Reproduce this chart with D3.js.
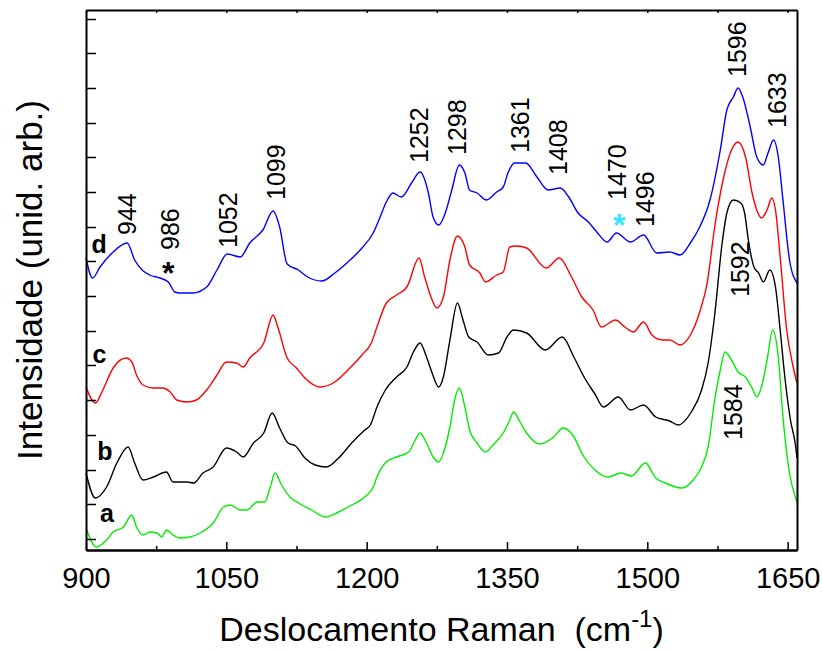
<!DOCTYPE html>
<html>
<head>
<meta charset="utf-8">
<script src="https://cdn.jsdelivr.net/npm/d3@7"></script>
<style>
  body { margin: 0; background: #fff; }
  text { font-family: "Liberation Sans", Arial, sans-serif; }
</style>
</head>
<body>
<div id="chart"></div>
<script>
// Raman spectra a-d, [wavenumber (cm-1), intensity (arb.)]
const seriesA = [
  [900, 22], [911, 3], [922, 10], [929, 18], [940, 23], [949, 35], [954, 23], [961, 15], [968, 18], [976, 17],
  [981, 13], [986, 20], [993, 15], [1000, 12], [1011, 13], [1022, 17], [1036, 27], [1047, 43], [1054, 45], [1065, 40],
  [1072, 40], [1083, 48], [1091, 48], [1097, 63], [1102, 77], [1109, 65], [1118, 53], [1127, 47], [1141, 40], [1156, 33],
  [1170, 38], [1184, 45], [1198, 53], [1207, 63], [1211, 73], [1221, 88], [1232, 93], [1245, 98], [1252, 110], [1257, 117],
  [1264, 107], [1271, 93], [1277, 88], [1282, 97], [1289, 123], [1294, 150], [1299, 162], [1305, 143], [1310, 120], [1318, 107],
  [1327, 98], [1335, 105], [1346, 117], [1353, 130], [1357, 138], [1364, 128], [1371, 117], [1385, 106], [1400, 113], [1410, 122],
  [1421, 114], [1431, 95], [1444, 80], [1458, 73], [1472, 77], [1483, 74], [1498, 87], [1509, 72], [1519, 67], [1537, 62],
  [1549, 70], [1558, 83], [1565, 103], [1572, 150], [1578, 180], [1583, 198], [1590, 190], [1597, 178], [1605, 173], [1612, 162],
  [1617, 153], [1622, 163], [1628, 190], [1634, 220], [1640, 193], [1645, 133], [1651, 83], [1660, 48]
];
const seriesB = [
  [900, 77], [910, 52], [922, 63], [933, 87], [945, 103], [952, 87], [961, 70], [972, 73], [986, 78], [993, 68],
  [1008, 68], [1015, 67], [1025, 77], [1036, 83], [1050, 102], [1061, 98], [1068, 93], [1079, 107], [1090, 117], [1099, 137],
  [1107, 122], [1116, 107], [1124, 104], [1134, 92], [1145, 85], [1157, 83], [1170, 92], [1184, 107], [1198, 120], [1204, 125],
  [1211, 143], [1220, 160], [1232, 173], [1243, 183], [1250, 198], [1257, 207], [1264, 193], [1270, 177], [1277, 163], [1282, 173],
  [1289, 210], [1297, 247], [1303, 230], [1309, 213], [1318, 208], [1330, 195], [1341, 197], [1350, 213], [1357, 220], [1371, 217],
  [1391, 200], [1409, 213], [1422, 192], [1433, 172], [1444, 156], [1453, 143], [1469, 153], [1482, 140], [1496, 145], [1509, 133],
  [1524, 129], [1533, 125], [1547, 138], [1558, 160], [1565, 187], [1572, 235], [1580, 307], [1585, 337], [1592, 350], [1600, 347],
  [1604, 337], [1608, 310], [1614, 283], [1619, 277], [1624, 268], [1631, 280], [1637, 263], [1642, 220], [1647, 173], [1653, 130],
  [1658, 107], [1660, 92]
];
const seriesC = [
  [900, 163], [910, 147], [918, 160], [929, 182], [943, 192], [949, 188], [954, 175], [961, 165], [972, 162], [982, 162],
  [990, 158], [997, 150], [1008, 148], [1018, 150], [1029, 160], [1040, 175], [1050, 188], [1061, 187], [1068, 183], [1075, 192],
  [1090, 207], [1100, 235], [1105, 223], [1115, 192], [1125, 182], [1134, 172], [1150, 163], [1166, 168], [1180, 180], [1195, 195],
  [1205, 207], [1211, 223], [1221, 247], [1232, 255], [1243, 263], [1256, 292], [1262, 273], [1270, 250], [1275, 242], [1282, 253],
  [1289, 290], [1297, 314], [1305, 303], [1310, 285], [1321, 277], [1327, 268], [1339, 275], [1346, 278], [1353, 303], [1360, 304],
  [1371, 302], [1392, 282], [1406, 292], [1419, 273], [1430, 253], [1442, 240], [1451, 223], [1466, 230], [1476, 223], [1485, 218],
  [1496, 228], [1505, 215], [1516, 210], [1524, 210], [1535, 205], [1546, 215], [1556, 238], [1564, 267], [1572, 323], [1581, 370],
  [1590, 400], [1597, 408], [1605, 393], [1612, 357], [1617, 340], [1622, 332], [1628, 340], [1633, 352], [1637, 340], [1642, 293],
  [1649, 220], [1655, 187], [1660, 167]
];
const seriesD = [
  [900, 292], [907, 272], [915, 283], [929, 298], [944, 307], [952, 290], [960, 280], [968, 275], [979, 272], [988, 268],
  [995, 258], [1000, 257], [1014, 257], [1029, 263], [1040, 280], [1051, 296], [1065, 293], [1075, 307], [1089, 320], [1100, 339],
  [1107, 323], [1115, 286], [1127, 280], [1137, 273], [1152, 269], [1166, 277], [1180, 288], [1195, 302], [1207, 317], [1214, 332],
  [1221, 348], [1228, 357], [1237, 353], [1248, 367], [1257, 378], [1266, 357], [1271, 333], [1277, 325], [1284, 337], [1291, 360],
  [1299, 385], [1305, 377], [1310, 360], [1318, 357], [1328, 350], [1339, 358], [1346, 363], [1351, 377], [1358, 387], [1370, 387],
  [1382, 373], [1394, 360], [1407, 362], [1416, 353], [1426, 337], [1437, 328], [1446, 318], [1457, 308], [1467, 317], [1482, 308],
  [1496, 315], [1510, 297], [1524, 298], [1535, 295], [1546, 307], [1556, 323], [1567, 350], [1578, 400], [1585, 440], [1592, 453],
  [1597, 462], [1602, 453], [1610, 423], [1617, 393], [1624, 385], [1629, 397], [1635, 410], [1640, 393], [1645, 350], [1652, 290],
  [1660, 267]
];
const seriesColors = ['#00ee00', '#000000', '#ff0000', '#0000ff'];

// curve letters: label, wavenumber, level
const letterText = ['a', 'b', 'c', 'd'];
const letterWave = [915, 912, 907, 906];
const letterLevel = [28, 90, 187, 297];

// peak labels: text, wavenumber, level of the label's foot
const peakText = ['944', '986', '1052', '1099', '1252', '1298', '1361', '1408', '1470', '1496', '1596', '1633', '1592', '1584'];
const peakWave = [944, 990, 1052, 1103, 1256, 1297, 1364, 1405, 1468, 1497, 1596, 1639, 1599, 1592];
const peakLevel = [315, 300, 302, 350, 387, 395, 397, 375, 350, 323, 473, 422, 253, 110];

// asterisks marking bands
const starWave = [988, 1470];
const starLevel = [284, 332];
const starColor = ['#000000', '#33e6ff'];

const xTicks = [900, 1050, 1200, 1350, 1500, 1650];
const xMinorTicks = [975, 1125, 1275, 1425, 1575];
const yTicks = [11, 46, 80, 115, 150, 185, 219, 254, 289, 323, 358, 393, 427, 462, 497, 531];

const width = 822;
const height = 651;
const margin = { top: 10, right: 25, bottom: 101, left: 86 };

const svg = d3.select('#chart')
  .append('svg')
  .attr('width', width)
  .attr('height', height);

const x = d3.scaleLinear()
  .domain([900, 1660])
  .range([margin.left, width - margin.right]);
const y = d3.scaleLinear()
  .domain([0, 540])
  .range([height - margin.bottom, margin.top]);

const line = d3.line()
  .curve(d3.curveMonotoneX)
  .x(d => x(d[0]))
  .y(d => y(d[1]));

// spectra
svg.append('g')
  .attr('class', 'spectra')
  .selectAll('path')
  .data([seriesA, seriesB, seriesC, seriesD])
  .join('path')
  .attr('d', line)
  .attr('fill', 'none')
  .attr('stroke', (d, i) => seriesColors[i])
  .attr('stroke-width', 1.4)
  .attr('stroke-linejoin', 'round');

// axes
const bottomY = height - margin.bottom;
const xAxis = svg.append('g')
  .attr('transform', `translate(0, ${bottomY})`)
  .call(d3.axisBottom(x).tickValues(xTicks).tickFormat(d3.format('d'))
    .tickSizeInner(-8).tickSizeOuter(0).tickPadding(17));
svg.append('g')
  .attr('transform', `translate(0, ${bottomY})`)
  .call(d3.axisBottom(x).tickValues(xMinorTicks).tickSizeInner(-4).tickSizeOuter(0).tickFormat(''));
svg.append('g')
  .attr('transform', `translate(0, ${margin.top})`)
  .call(d3.axisTop(x).tickValues(xTicks.concat(xMinorTicks)).tickSizeInner(-3).tickSizeOuter(0).tickFormat(''));
svg.append('g')
  .attr('transform', `translate(${margin.left}, 0)`)
  .call(d3.axisLeft(y).tickValues(yTicks).tickSizeInner(-10).tickSizeOuter(0).tickFormat(''));
svg.append('g')
  .attr('transform', `translate(${width - margin.right}, 0)`)
  .call(d3.axisRight(y).tickValues([]).tickSizeOuter(0));

svg.selectAll('.domain').attr('stroke', '#000').attr('stroke-width', 2);
svg.selectAll('.tick line').attr('stroke', '#000').attr('stroke-width', 1.5);
xAxis.selectAll('text')
  .attr('font-size', 29)
  .attr('fill', '#000')
  .style('font-family', '"Liberation Sans", Arial, sans-serif');

// curve letters
svg.append('g')
  .selectAll('text')
  .data(letterText)
  .join('text')
  .attr('x', (d, i) => x(letterWave[i]))
  .attr('y', (d, i) => y(letterLevel[i]))
  .attr('font-size', 25)
  .attr('font-weight', 700)
  .text(d => d);

// peak labels, rotated
svg.append('g')
  .selectAll('text')
  .data(peakText)
  .join('text')
  .attr('transform', (d, i) => `translate(${x(peakWave[i]) + 9}, ${y(peakLevel[i])}) rotate(-90)`)
  .attr('font-size', 25)
  .text(d => d);

// asterisks
svg.append('g')
  .selectAll('text')
  .data(starWave)
  .join('text')
  .attr('x', d => x(d))
  .attr('y', (d, i) => y(starLevel[i]) + 18)
  .attr('text-anchor', 'middle')
  .attr('font-size', 32)
  .attr('font-weight', 700)
  .attr('fill', (d, i) => starColor[i])
  .text('*');

// axis titles
svg.append('text')
  .attr('x', (margin.left + width - margin.right) / 2)
  .attr('y', 641)
  .attr('text-anchor', 'middle')
  .attr('font-size', 34)
  .style('white-space', 'pre')
  .call(t => {
    t.append('tspan').text('Deslocamento Raman  (cm');
    t.append('tspan').attr('dy', -14).attr('font-size', 24).text('-1');
    t.append('tspan').attr('dy', 14).text(')');
  });

svg.append('text')
  .attr('transform', `translate(42, ${(margin.top + bottomY) / 2}) rotate(-90)`)
  .attr('text-anchor', 'middle')
  .attr('font-size', 35)
  .text('Intensidade (unid. arb.)');
</script>
</body>
</html>
